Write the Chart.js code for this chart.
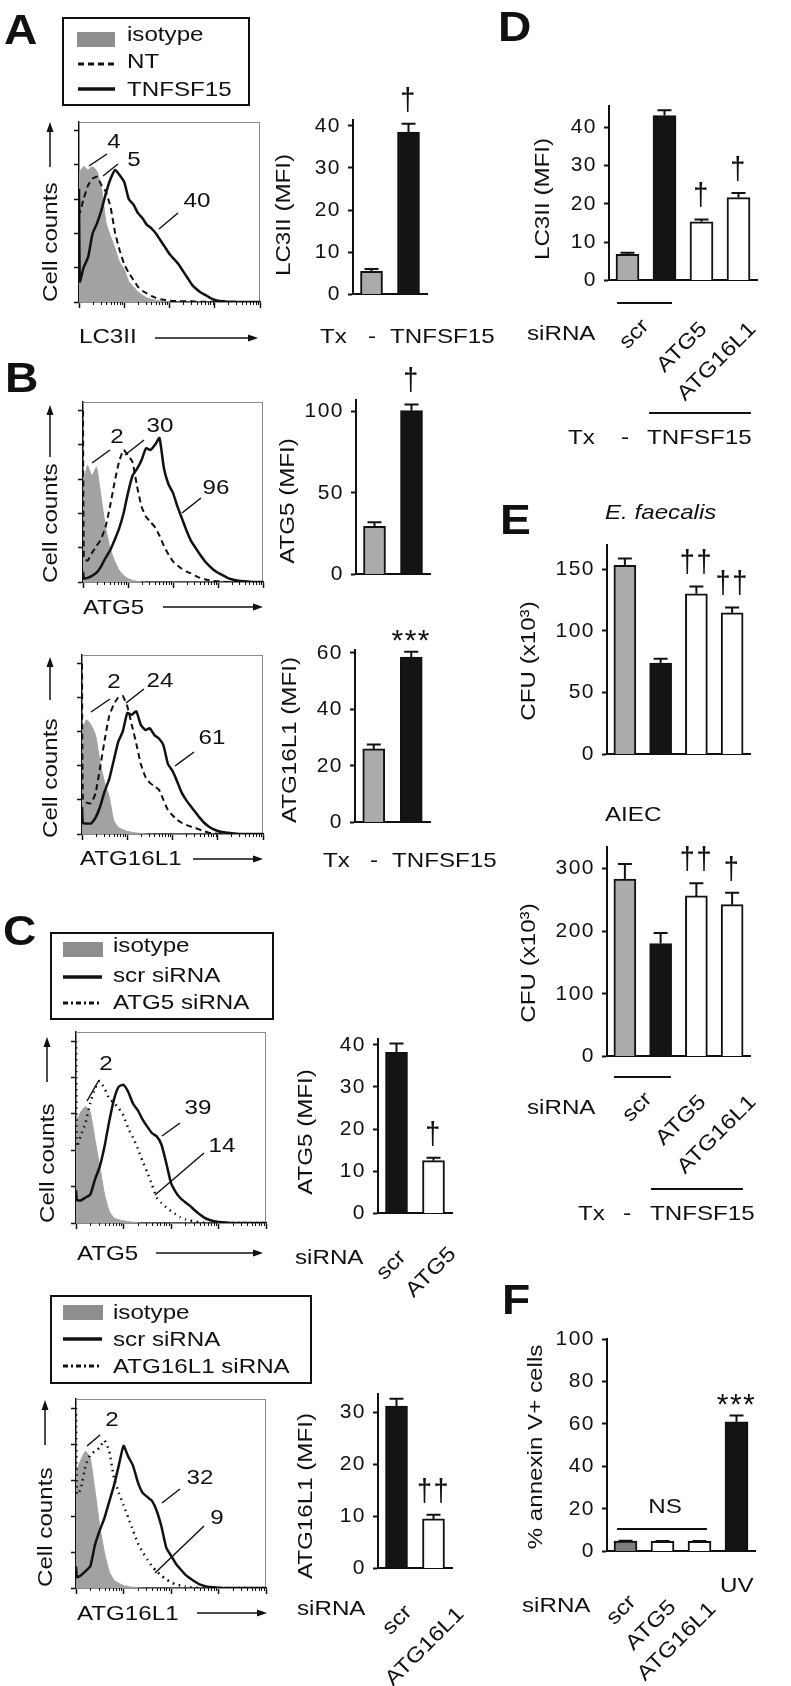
<!DOCTYPE html>
<html><head><meta charset="utf-8">
<script src="https://cdn.jsdelivr.net/npm/chart.js@4.4.1/dist/chart.umd.min.js"></script>
<style>
html,body{margin:0;padding:0;background:#fff;}
#fig{position:relative;width:791px;height:1686px;overflow:hidden;background:#fff;font-family:"Liberation Sans",Arial,sans-serif;color:#111;}
canvas{position:absolute;}
#ov{position:absolute;left:0;top:0;}
</style></head><body><div id="fig"></div>
<script>
// ---------------- DATA ----------------
// flow histograms: x in decades of fluorescence (log axis, 4 decades), y in tick units (0..5)
const histX = [0, 0.02, 0.1, 0.2, 0.3, 0.4, 0.5, 0.6, 0.7, 0.8, 0.9, 1.0, 1.1, 1.2, 1.3, 1.4, 1.5, 1.6, 1.7, 1.8, 1.9, 2.0, 2.1, 2.2, 2.3, 2.4, 2.5, 2.6, 2.7, 2.8, 2.9, 3.0, 3.1, 3.2, 3.3, 3.4, 3.5, 3.6, 3.7, 3.8, 3.9, 4.0];

const histA_isotype = [3.7,3.8, 3.95,3.85,3.95,3.8,3.3,2.3,1.9,1.55,1.15,0.95, 0.6,0.45,0.3,0.2,0.12,0.08,0.05,0.03,0.02,0.01, 0,0,0,0,0,0,0,0,0,0, 0,0,0,0,0,0,0,0,0,0];
const histA_NT      = [3.0,2.6, 3.0,3.4,3.6,3.65,3.4,3.2,2.75,2.0,1.5,1.1, 0.85,0.65,0.45,0.33,0.25,0.18,0.12,0.08,0.06,0.04, 0.03,0.03,0.02,0.02,0.02,0.01,0.01,0.01,0.01,0.01, 0,0,0,0,0,0,0,0,0,0];
const histA_TNFSF15 = [3.3,0.6, 1.0,1.3,2.0,2.3,2.7,3.2,3.6,3.85,3.7,3.5, 3.0,2.85,2.6,2.45,2.25,2.15,2.0,1.8,1.6,1.4, 1.25,1.1,0.9,0.7,0.5,0.37,0.27,0.2,0.12,0.06, 0.03,0.02,0.01,0.01,0,0,0,0,0,0];

const histB1_isotype = [2.9,2.95, 3.4,3.1,3.35,2.5,1.6,1.0,0.62,0.35,0.2,0.1, 0.05,0.02,0.01,0,0,0,0,0,0,0, 0,0,0,0,0,0,0,0,0,0, 0,0,0,0,0,0,0,0,0,0];
const histB1_NT      = [5.0,0.7, 0.62,0.85,1.05,1.25,1.6,2.2,2.9,3.5,3.85,3.7, 3.5,2.8,2.2,1.9,1.75,1.6,1.35,1.05,0.8,0.6, 0.48,0.38,0.3,0.25,0.18,0.12,0.08,0.05,0.03,0.02, 0.01,0,0,0,0,0,0,0,0,0];
const histB1_TNFSF15 = [0.3,0.1, 0.12,0.18,0.27,0.45,0.7,0.92,1.22,1.55,2.0,2.6, 3.1,3.3,3.55,3.9,3.85,4.0,4.2,3.3,2.85,2.6, 2.2,1.85,1.5,1.2,1.0,0.8,0.62,0.48,0.36,0.27, 0.2,0.13,0.08,0.05,0.03,0.02,0.01,0,0,0];

const histB2_isotype = [3.0,3.1, 3.35,3.2,2.9,2.1,1.5,1.1,0.4,0.2,0.13,0.08, 0.05,0.03,0.02,0.01,0,0,0,0,0,0, 0,0,0,0,0,0,0,0,0,0, 0,0,0,0,0,0,0,0,0,0];
const histB2_NT      = [5.0,1.0, 0.92,0.9,1.2,1.95,2.75,3.45,3.8,4.0,4.05,3.75, 3.2,2.65,2.05,1.68,1.5,1.4,1.3,1.0,0.7,0.55, 0.42,0.33,0.27,0.22,0.18,0.13,0.08,0.04,0.02,0.01, 0,0,0,0,0,0,0,0,0,0];
const histB2_TNFSF15 = [0.8,0.32, 0.31,0.31,0.48,0.8,1.25,1.6,2.15,2.7,3.0,3.55, 3.5,3.6,3.2,3.05,3.1,2.9,2.8,2.6,2.05,1.85, 1.55,1.22,1.0,0.82,0.65,0.48,0.33,0.22,0.14,0.09, 0.06,0.04,0.02,0.01,0,0,0,0,0,0];

const histC1_isotype = [2.8,2.85, 3.05,3.2,3.05,2.3,1.55,0.8,0.32,0.14,0.09,0.06, 0.04,0.02,0.01,0,0,0,0,0,0,0, 0,0,0,0,0,0,0,0,0,0, 0,0,0,0,0,0,0,0,0,0];
const histC1_siATG5  = [5.0,2.1, 2.4,2.75,3.3,3.7,3.9,3.7,3.42,3.3,3.15,2.95, 2.6,2.35,2.05,1.7,1.4,1.05,0.7,0.55,0.43,0.33, 0.24,0.16,0.1,0.07,0.04,0.02,0.01,0,0,0, 0,0,0,0,0,0,0,0,0,0];
const histC1_scr     = [0.9,0.63, 0.62,0.7,0.78,1.2,1.55,2.1,2.8,3.4,3.75,3.8, 3.6,3.28,3.1,2.85,2.65,2.47,2.38,2.15,1.65,1.1, 0.85,0.68,0.57,0.47,0.35,0.24,0.15,0.09,0.05,0.03, 0.02,0.01,0,0,0,0,0,0,0,0];

const histC2_isotype   = [3.2,3.3, 3.55,3.8,3.6,2.7,1.72,0.98,0.45,0.22,0.13,0.07, 0.04,0.02,0.01,0,0,0,0,0,0,0, 0,0,0,0,0,0,0,0,0,0, 0,0,0,0,0,0,0,0,0,0];
const histC2_siATG16L1 = [5.0,2.6, 2.75,3.4,3.7,3.8,3.9,4.1,3.8,3.05,2.65,2.3, 1.95,1.6,1.25,1.0,0.8,0.6,0.46,0.34,0.24,0.16, 0.1,0.07,0.04,0.02,0.01,0,0,0,0,0, 0,0,0,0,0,0,0,0,0,0];
const histC2_scr       = [0.6,0.3, 0.35,0.47,0.6,1.2,1.6,1.95,2.4,2.85,3.4,3.95, 3.65,3.4,2.95,2.65,2.53,2.42,2.14,1.7,1.12,0.9, 0.68,0.52,0.37,0.27,0.18,0.1,0.06,0.03,0.02,0.01, 0,0,0,0,0,0,0,0,0,0];

const histYTicks = [0, 1, 2, 3, 4, 5];
const histXTicks = [0, 1, 2, 3, 4];

// bar charts (mean, upper error)
const barA_labels = ['-', 'TNFSF15'];
const barA_values = [5.5, 38.5];
const barA_errors = [0.5, 2.0];
const barA_sig = ['', '†'];
const barA_ticks = [0, 10, 20, 30, 40];

const barB1_labels = ['-', 'TNFSF15'];
const barB1_values = [29.5, 100.5];
const barB1_errors = [2.5, 3.8];
const barB1_sig = ['', '†'];
const barB1_ticks = [0, 50, 100];

const barB2_labels = ['-', 'TNFSF15'];
const barB2_values = [26, 58.5];
const barB2_errors = [1.6, 1.9];
const barB2_sig = ['', '***'];
const barB2_ticks = [0, 20, 40, 60];

const barC1_labels = ['scr', 'ATG5'];
const barC1_values = [38.2, 12.5];
const barC1_errors = [2.1, 0.7];
const barC1_sig = ['', '†'];
const barC1_ticks = [0, 10, 20, 30, 40];

const barC2_labels = ['scr', 'ATG16L1'];
const barC2_values = [31.2, 9.5];
const barC2_errors = [1.4, 0.8];
const barC2_sig = ['', '††'];
const barC2_ticks = [0, 10, 20, 30];

const barD_labels = ['scr / -', 'scr / TNFSF15', 'ATG5 / TNFSF15', 'ATG16L1 / TNFSF15'];
const barD_values = [6.8, 43.0, 15.3, 21.6];
const barD_errors = [0.4, 1.4, 0.6, 1.2];
const barD_sig = ['', '', '†', '†'];
const barD_ticks = [0, 10, 20, 30, 40];

const barE1_labels = ['scr / -', 'scr / TNFSF15', 'ATG5 / TNFSF15', 'ATG16L1 / TNFSF15'];
const barE1_values = [153, 74, 130, 114.5];
const barE1_errors = [5.5, 3.5, 6, 4.5];
const barE1_sig = ['', '', '††', '††'];
const barE1_ticks = [0, 50, 100, 150];

const barE2_labels = ['scr / -', 'scr / TNFSF15', 'ATG5 / TNFSF15', 'ATG16L1 / TNFSF15'];
const barE2_values = [283, 180, 256, 242];
const barE2_errors = [24, 17, 20, 19];
const barE2_sig = ['', '', '††', '†'];
const barE2_ticks = [0, 100, 200, 300];

const barF_labels = ['scr', 'ATG5', 'ATG16L1', 'UV'];
const barF_values = [4.8, 4.7, 4.7, 61];
const barF_errors = [0.2, 0.2, 0.2, 3];
const barF_sig = ['', '', '', '***'];
const barF_ticks = [0, 20, 40, 60, 80, 100];

// ---------------- RENDERING ----------------
const fig = document.getElementById('fig');
const FONT = '"Liberation Sans", Arial, sans-serif';
Chart.defaults.font.family = FONT;
Chart.defaults.color = '#111';
const GRAY = '#ababab', BLACK = '#141414', WHITE = '#ffffff', DGRAY = '#7d7d7d', ISO = '#a2a2a2';

function mkCanvas(L, T, R, B, ml, mt, mr, mb) {
  const c = document.createElement('canvas');
  const W = R - L + ml + mr, H = B - T + mt + mb;
  c.width = W; c.height = H;
  c.style.cssText = `left:${L - ml}px;top:${T - mt}px;width:${W}px;height:${H}px`;
  fig.appendChild(c);
  return c;
}

const spacing = { id: 'spacing', beforeDraw(chart) { try { chart.ctx.letterSpacing = '1.5px'; } catch (e) {} } };

function errPlugin(errs, sig) {
  return {
    id: 'errbars',
    afterDatasetsDraw(chart) {
      const ctx = chart.ctx, y = chart.scales.y;
      const ds = chart.data.datasets[0];
      chart.getDatasetMeta(0).data.forEach((bar, i) => {
        const v = ds.data[i], e = errs[i];
        const yTop = y.getPixelForValue(v + e), yBar = y.getPixelForValue(v);
        ctx.save();
        ctx.strokeStyle = '#111'; ctx.lineWidth = 2;
        ctx.beginPath();
        ctx.moveTo(bar.x, yBar); ctx.lineTo(bar.x, yTop);
        ctx.moveTo(bar.x - 7, yTop); ctx.lineTo(bar.x + 7, yTop);
        ctx.stroke();
        if (sig[i]) {
          ctx.fillStyle = '#111'; ctx.textAlign = 'center'; ctx.textBaseline = 'alphabetic';
          if (sig[i][0] === '*') { ctx.font = '30px ' + FONT; ctx.fillText(sig[i], bar.x, yTop - 1.5); }
          else {
            ctx.font = '27px ' + FONT;
            ctx.translate(bar.x, yTop - 14);
            ctx.scale(1, 1.18);
            ctx.fillText(sig[i], 0, 0);
          }
        }
        ctx.restore();
      });
    }
  };
}

function barChart(area, labels, values, errs, colors, ticks, yMax, thick, sig) {
  const [L, T, R, B] = area, ml = 62, mt = 55, mr = 10, mb = 12;
  const c = mkCanvas(L, T, R, B, ml, mt, mr, mb);
  new Chart(c, {
    type: 'bar',
    data: { labels, datasets: [{ data: values, backgroundColor: colors, borderColor: '#111', borderWidth: 2, barThickness: thick }] },
    options: {
      responsive: false, animation: false, devicePixelRatio: 1,
      layout: { padding: { left: 0, top: mt, right: mr, bottom: 0 } },
      plugins: { legend: { display: false }, tooltip: { enabled: false } },
      scales: {
        x: { grid: { display: false }, border: { display: true, color: '#111', width: 2 }, ticks: { display: false },
             afterFit: s => { s.height = mb; } },
        y: { min: 0, max: yMax,
             afterBuildTicks: s => { s.ticks = ticks.map(v => ({ value: v })); },
             afterFit: s => { s.width = ml; },
             grid: { drawOnChartArea: false, tickLength: 5, tickWidth: 2, tickColor: '#111' },
             border: { color: '#111', width: 2 },
             ticks: { font: { size: 21 }, color: '#111', padding: 7 } }
      }
    },
    plugins: [errPlugin(errs, sig), spacing]
  });
}

const frame = { id: 'frame', beforeDatasetsDraw(chart) {
  const { ctx, chartArea: a } = chart;
  ctx.save(); ctx.strokeStyle = '#8a8a8a'; ctx.lineWidth = 1;
  ctx.strokeRect(a.left + 0.5, a.top + 0.5, a.right - a.left - 1, a.bottom - a.top);
  ctx.restore();
} };
const logTicks = { id: 'logTicks', afterDraw(chart) {
  const { ctx, chartArea: a, scales: { x } } = chart;
  ctx.save(); ctx.strokeStyle = '#111'; ctx.lineWidth = 1; ctx.beginPath();
  for (let d = 0; d < 4; d++) for (const k of [2, 3, 4, 5, 6, 7, 8, 9]) {
    const px = Math.round(x.getPixelForValue(d + Math.log10(k))) + 0.5;
    ctx.moveTo(px, a.bottom); ctx.lineTo(px, a.bottom + 3);
  }
  ctx.stroke(); ctx.restore();
} };

function xy(arr) { return histX.map((x, i) => ({ x, y: arr[i] })); }

function histo(area, iso, solid, other, dash, otherW) {
  const [L, T, R, B] = area, ml = 10, mt = 5, mr = 5, mb = 10;
  const c = mkCanvas(L, T, R, B, ml, mt, mr, mb);
  new Chart(c, {
    type: 'line',
    data: { datasets: [
      { data: xy(solid), borderColor: '#111', borderWidth: 2.5, pointRadius: 0, tension: 0.15, fill: false },
      { data: xy(other), borderColor: '#111', borderWidth: otherW, borderDash: dash, pointRadius: 0, tension: 0.15, fill: false },
      { data: xy(iso), borderColor: ISO, backgroundColor: ISO, borderWidth: 1, pointRadius: 0, tension: 0.15, fill: 'origin' }
    ] },
    options: {
      responsive: false, animation: false, devicePixelRatio: 1,
      layout: { padding: { left: 0, top: mt, right: mr, bottom: 0 } },
      plugins: { legend: { display: false }, tooltip: { enabled: false } },
      scales: {
        x: { type: 'linear', min: 0, max: 4,
             afterBuildTicks: s => { s.ticks = histXTicks.map(v => ({ value: v })); },
             afterFit: s => { s.height = mb; },
             grid: { drawOnChartArea: false, tickLength: 6, tickWidth: 1.5, tickColor: '#111' },
             border: { color: '#111', width: 1.5 }, ticks: { display: false } },
        y: { min: 0, max: 5.25,
             afterBuildTicks: s => { s.ticks = histYTicks.map(v => ({ value: v })); },
             afterFit: s => { s.width = ml; },
             grid: { drawOnChartArea: false, tickLength: 5, tickWidth: 1.5, tickColor: '#111' },
             border: { color: '#111', width: 1.5 }, ticks: { display: false } }
      }
    },
    plugins: [frame, logTicks]
  });
}

const DASH = [6, 4], DOT = [1.5, 4.5];
histo([79, 122, 260, 302], histA_isotype, histA_TNFSF15, histA_NT, DASH, 2);
histo([83, 402, 263, 582], histB1_isotype, histB1_TNFSF15, histB1_NT, DASH, 2);
histo([82, 655, 263, 834], histB2_isotype, histB2_TNFSF15, histB2_NT, DASH, 2);
histo([76, 1032, 266, 1223], histC1_isotype, histC1_scr, histC1_siATG5, DOT, 2.5);
histo([76, 1399, 266, 1588], histC2_isotype, histC2_scr, histC2_siATG16L1, DOT, 2.5);

barChart([353, 120, 427, 302], barA_labels, barA_values, barA_errors, [GRAY, BLACK], barA_ticks, 41.36, 22, barA_sig);
barChart([356, 400, 430, 582], barB1_labels, barB1_values, barB1_errors, [GRAY, BLACK], barB1_ticks, 107.06, 22, barB1_sig);
barChart([355, 650, 430, 830], barB2_labels, barB2_values, barB2_errors, [GRAY, BLACK], barB2_ticks, 61.0, 22, barB2_sig);
barChart([378, 1039, 452, 1221], barC1_labels, barC1_values, barC1_errors, [BLACK, WHITE], barC1_ticks, 41.36, 22, barC1_sig);
barChart([378, 1394, 452, 1576], barC2_labels, barC2_values, barC2_errors, [BLACK, WHITE], barC2_ticks, 33.5, 22, barC2_sig);
barChart([609, 106, 757, 288], barD_labels, barD_values, barD_errors, [GRAY, BLACK, WHITE, WHITE], barD_ticks, 45.5, 23, barD_sig);
barChart([607, 545, 750, 762], barE1_labels, barE1_values, barE1_errors, [GRAY, BLACK, WHITE, WHITE], barE1_ticks, 169.5, 22, barE1_sig);
barChart([607, 847, 750, 1064], barE2_labels, barE2_values, barE2_errors, [GRAY, BLACK, WHITE, WHITE], barE2_ticks, 334, 22, barE2_sig);
barChart([607, 1339, 755, 1559], barF_labels, barF_values, barF_errors, [DGRAY, WHITE, WHITE, BLACK], barF_ticks, 100, 23, barF_sig);

// ---------------- OVERLAY LINES ----------------
let s = '';
function ln(x1, y1, x2, y2, w = 1.5, dash = '') { s += `<line x1="${x1}" y1="${y1}" x2="${x2}" y2="${y2}" stroke="#111" stroke-width="${w}" ${dash ? `stroke-dasharray="${dash}"` : ''}/>`; }
function rect(x, y, w, h, fill, stroke, sw) { s += `<rect x="${x}" y="${y}" width="${w}" height="${h}" fill="${fill}" ${stroke ? `stroke="${stroke}" stroke-width="${sw}"` : ''}/>`; }
function arrowUp(x, y1, y2) { ln(x, y1, x, y2 + 8, 1.5); s += `<polygon points="${x},${y2} ${x - 3.5},${y2 + 10} ${x + 3.5},${y2 + 10}" fill="#111"/>`; }
function arrowRight(y, x1, x2) { ln(x1, y, x2 - 8, y, 1.5); s += `<polygon points="${x2},${y} ${x2 - 10},${y - 3.5} ${x2 - 10},${y + 3.5}" fill="#111"/>`; }

// legends
rect(63, 18, 186, 87, 'none', '#111', 2); rect(77, 32, 38, 15, '#8e8e8e');
ln(78, 64, 115, 64, 3, '6,4'); ln(78, 89, 115, 89, 3.5);
rect(51, 933, 222, 86, 'none', '#111', 2); rect(63, 942, 40, 15, '#8e8e8e');
ln(63, 977, 102, 977, 3.5); ln(63, 1003, 102, 1003, 3, '5,3,2,3');
rect(51, 1296, 260, 87, 'none', '#111', 2); rect(63, 1305, 40, 15, '#8e8e8e');
ln(63, 1339, 102, 1339, 3.5); ln(63, 1366, 102, 1366, 3, '5,3,2,3');
// leaders
ln(89, 166, 107, 154); ln(103, 176, 118, 164); ln(159, 229, 178, 213);
ln(92, 463, 110, 450); ln(125, 455, 144, 440); ln(182, 513, 201, 498);
ln(91, 712, 110, 699); ln(126, 703, 144, 689); ln(175, 766, 194, 752);
ln(87, 1101, 99, 1080); ln(162, 1136, 180, 1123); ln(155, 1195, 204, 1153);
ln(87, 1446, 100, 1435); ln(162, 1503, 180, 1489); ln(155, 1573, 204, 1526);
// arrows
arrowUp(50, 167, 122); arrowUp(50, 457, 405); arrowUp(50, 700, 657); arrowUp(47, 1082, 1037); arrowUp(45, 1445, 1400);
arrowRight(338, 155, 258); arrowRight(607, 163, 263); arrowRight(859, 193, 263); arrowRight(1253, 156, 263); arrowRight(1613, 197, 267);
// group lines
ln(617, 303, 672, 303, 2); ln(649, 413, 751, 413, 2);
ln(614, 1077, 671, 1077, 2); ln(651, 1189, 743, 1189, 2);
ln(617, 1529, 707, 1529, 2);
fig.insertAdjacentHTML('beforeend', `<svg id="ov" width="791" height="1686" xmlns="http://www.w3.org/2000/svg">${s}</svg>`);

// ---------------- TEXT ----------------
function T(text, x, y, o = {}) {
  const fs = o.fs || 21, sx = o.sx ?? 1.15, al = o.al || 'left', rot = o.rot || 0;
  const w = document.createElement('div');
  w.style.cssText = `position:absolute;left:${x}px;top:${y}px;width:0;height:0;transform:rotate(${rot}deg);transform-origin:0 0;`;
  const d = document.createElement('div');
  d.innerHTML = text;
  const tx = al === 'center' ? '-50%' : al === 'right' ? '-100%' : '0';
  const org = al === 'center' ? '50%' : al === 'right' ? '100%' : '0';
  d.style.cssText = `position:absolute;left:0;top:0;white-space:nowrap;line-height:0;font-size:${fs}px;font-family:${FONT};${o.b ? 'font-weight:bold;' : ''}${o.i ? 'font-style:italic;' : ''}transform:translateX(${tx}) scaleX(${sx});transform-origin:${org} 0;color:#111;`;
  w.appendChild(d); fig.appendChild(w);
}
const L = { fs: 42, b: true, sx: 1.1 };
T('A', 4, 30, L); T('B', 5, 378, L); T('C', 3, 931, L); T('D', 498, 27, L); T('E', 500, 520, L); T('F', 502, 1300, L);

// legends
T('isotype', 127, 34); T('NT', 127, 61); T('TNFSF15', 127, 89);
T('isotype', 113, 945); T('scr siRNA', 113, 975); T('ATG5 siRNA', 113, 1002);
T('isotype', 113, 1312); T('scr siRNA', 113, 1339); T('ATG16L1 siRNA', 113, 1366);

// histogram labels
const C = { al: 'center' };
T('4', 114, 141, C); T('5', 134, 159, C); T('40', 197, 200, C);
T('2', 117, 436, C); T('30', 160, 425, C); T('96', 216, 487, C);
T('2', 114, 681, C); T('24', 160, 680, C); T('61', 212, 737, C);
T('2', 106, 1063, C); T('39', 198, 1107, C); T('14', 222, 1145, C);
T('2', 112, 1419, C); T('32', 200, 1477, C); T('9', 217, 1517, C);

// histogram axes
const V = { rot: -90 };
T('Cell counts', 50, 302, V); T('Cell counts', 50, 583, V); T('Cell counts', 50, 838, V);
T('Cell counts', 47, 1223, V); T('Cell counts', 45, 1587, V);
T('LC3II', 79, 336); T('ATG5', 83, 607); T('ATG16L1', 80, 858); T('ATG5', 77, 1253); T('ATG16L1', 77, 1613);

// bar y titles
const VC = { rot: -90, al: 'center' };
T('LC3II (MFI)', 283, 215, VC); T('ATG5 (MFI)', 287, 501, VC); T('ATG16L1 (MFI)', 289, 740, VC);
T('ATG5 (MFI)', 305, 1132, VC); T('ATG16L1 (MFI)', 305, 1496, VC);
T('LC3II (MFI)', 542, 199, VC); T('CFU (x10³)', 528, 661, VC); T('CFU (x10³)', 528, 963, VC);
T('% annexin V+ cells', 535, 1447, VC);

// bar x labels
T('Tx', 320, 336); T('-', 372, 336, C); T('TNFSF15', 390, 336);
T('Tx', 323, 860); T('-', 374, 860, C); T('TNFSF15', 392, 860);
const R45 = { rot: -45, al: 'right' };
T('siRNA', 295, 1257); T('scr', 402, 1253, R45); T('ATG5', 452, 1250, R45);
T('siRNA', 297, 1608); T('scr', 408, 1608, R45); T('ATG16L1', 460, 1610, R45);
T('siRNA', 527, 333); T('scr', 645, 322, R45); T('ATG5', 703, 325, R45); T('ATG16L1', 752, 325, R45);
T('Tx', 568, 437); T('-', 625, 437, C); T('TNFSF15', 647, 437);
T('<i>E. faecalis</i>', 605, 512); T('AIEC', 605, 814);
T('siRNA', 527, 1107); T('scr', 648, 1095, R45); T('ATG5', 702, 1098, R45); T('ATG16L1', 752, 1098, R45);
T('Tx', 578, 1213); T('-', 627, 1213, C); T('TNFSF15', 650, 1213);
T('NS', 665, 1506, C);
T('siRNA', 522, 1605); T('UV', 720, 1585); T('scr', 632, 1598, R45); T('ATG5', 672, 1603, R45); T('ATG16L1', 712, 1605, R45);
</script></body></html>
